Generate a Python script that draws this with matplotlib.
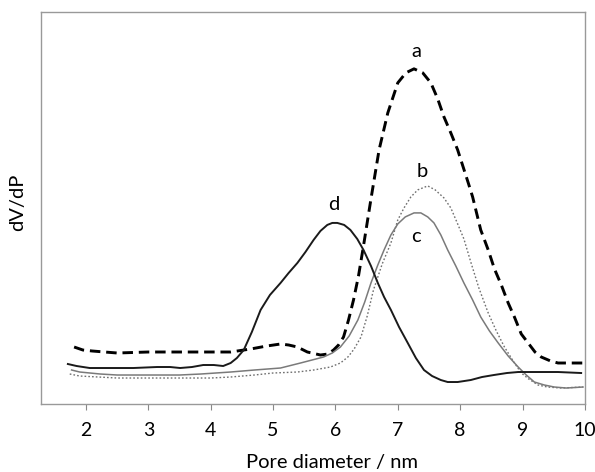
import matplotlib
matplotlib.use("Agg")
import matplotlib.pyplot as plt

# pore size distributions (arbitrary dV/dP units)
a_x = [1.81, 1.95, 2.1, 2.5, 3.0, 3.5, 4.0, 4.32, 4.64, 4.9, 5.12, 5.25, 5.39, 5.55,
       5.76, 5.88, 5.97, 6.05, 6.13, 6.21, 6.29, 6.37, 6.45, 6.57, 6.70, 6.84, 7.0,
       7.13, 7.26, 7.4, 7.53, 7.64, 7.74, 7.85, 7.96, 8.13, 8.2, 8.33, 8.45, 8.55,
       8.66, 8.77, 8.87, 8.98, 9.09, 9.2, 9.3, 9.45, 9.57, 9.75, 9.97]
a_y = [57, 54, 53, 51, 52, 52, 52, 52, 55, 58, 60, 59, 57, 52,
       49, 50, 54, 59, 67, 84, 104, 128, 158, 205, 254, 291, 321,
       331, 335, 331, 321, 305, 287, 271, 254, 221, 207, 174, 154, 135,
       119, 101, 87, 70, 61, 52, 47, 43, 41, 41, 41]

b_x = [1.74, 1.9, 2.2, 2.5, 3.0, 3.5, 4.0, 4.32, 4.7, 5.0, 5.39, 5.65, 5.92, 6.08,
       6.2, 6.3, 6.41, 6.51, 6.61, 6.75, 6.89, 7.0, 7.1, 7.21, 7.32, 7.48, 7.6,
       7.74, 7.85, 7.96, 8.06, 8.17, 8.3, 8.45, 8.58, 8.71, 8.85, 8.98, 9.1, 9.25,
       9.4, 9.62, 9.97]
b_y = [30, 28, 27, 26, 26, 26, 26, 27, 29, 31, 32, 34, 37, 41,
       47, 55, 67, 88, 114, 140, 161, 184, 196, 207, 214, 218, 214,
       206, 196, 180, 165, 142, 116, 91, 73, 57, 43, 31, 25, 19,
       17, 16, 17]

c_x = [1.77, 1.9, 2.23, 2.5, 3.03, 3.5, 3.84, 4.32, 4.7, 5.12, 5.44, 5.81, 5.95,
       6.08, 6.22, 6.36, 6.47, 6.57, 6.68, 6.78, 6.89, 7.0, 7.12, 7.26, 7.37, 7.48,
       7.58, 7.69, 7.80, 7.93, 8.06, 8.2, 8.33, 8.47, 8.61, 8.77, 8.93, 9.06, 9.19,
       9.35, 9.51, 9.7, 9.97]
c_y = [34, 32, 30, 29, 29, 29, 30, 32, 34, 36, 41, 47, 51,
       57, 68, 84, 102, 121, 139, 154, 169, 180, 187, 191, 191, 187,
       181, 169, 154, 138, 121, 104, 87, 73, 61, 48, 37, 29, 22,
       19, 17, 16, 17]

d_x = [1.71, 1.85, 2.06, 2.4, 2.76, 3.14, 3.35, 3.51, 3.7, 3.88, 4.05, 4.2, 4.32,
       4.42, 4.53, 4.66, 4.8, 4.95, 5.12, 5.25, 5.39, 5.52, 5.65, 5.76, 5.87, 5.95,
       6.03, 6.14, 6.24, 6.35, 6.45, 6.57, 6.68, 6.78, 6.89, 7.02, 7.16, 7.29, 7.42,
       7.55, 7.69, 7.80, 7.96, 8.17, 8.35, 8.54, 8.75, 8.93, 9.25, 9.57, 9.94]
d_y = [40, 38, 36, 36, 36, 37, 37, 36, 37, 39, 39, 38, 41,
       46, 54, 72, 94, 109, 121, 131, 141, 152, 164, 173, 179, 181,
       181, 179, 174, 165, 154, 138, 121, 107, 94, 77, 61, 46, 34,
       28, 24, 22, 22, 24, 27, 29, 31, 32, 32, 32, 31]

labels = ["a", "b", "c", "d"]
label_x = [7.29, 7.39, 7.29, 5.97]
label_y = [352, 232, 167, 199]

x_ticks = [2, 3, 4, 5, 6, 7, 8, 9, 10]

plt.rcParams['font.family'] = ['Lato', 'DejaVu Sans']

fig = plt.figure(figsize=(5.95, 4.72), dpi=100)
ax = fig.add_axes([0.069, 0.144, 0.914, 0.831])

ax.plot(a_x, a_y, color='black', lw=2.1, dashes=(3.6, 2.0))
ax.plot(b_x, b_y, color='#707070', lw=1.0, dashes=(1.2, 1.5))
ax.plot(c_x, c_y, color='#7a7a7a', lw=1.1)
ax.plot(d_x, d_y, color='#1a1a1a', lw=1.4)

for t, lx, ly in zip(labels, label_x, label_y):
    ax.text(lx, ly, t, ha='center', va='center', fontsize=14.5)

ax.set_xlim(1.28, 10.0)
ax.set_ylim(0, 392)
ax.set_xticks(x_ticks)
ax.set_yticks([])
ax.tick_params(axis='x', direction='out', length=4, color='#888888',
               labelsize=14, pad=9)
for s in ax.spines.values():
    s.set_color('#999999')
    s.set_linewidth(1.0)

ax.set_xlabel('Pore diameter / nm', fontsize=14.5)
ax.set_ylabel('dV/dP', fontsize=14.5)
ax.xaxis.set_label_coords(0.535, -0.128)
ax.yaxis.set_label_coords(-0.028, 0.515)

fig.savefig('out.png', dpi=100)
